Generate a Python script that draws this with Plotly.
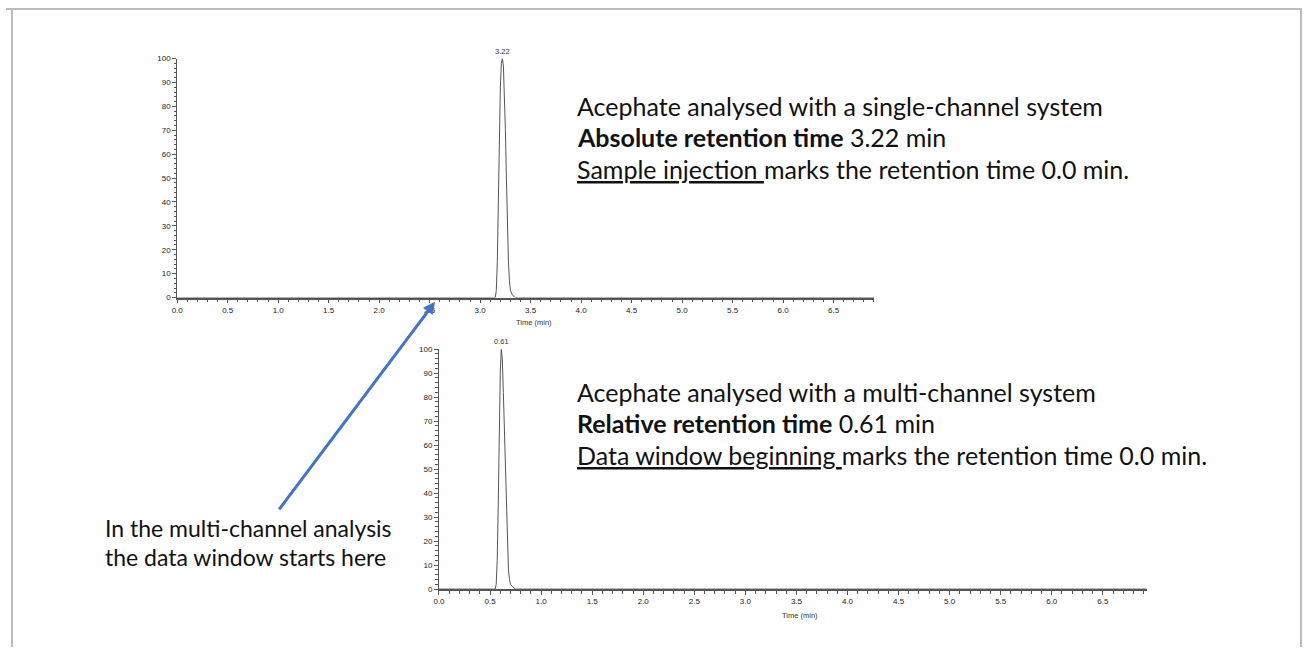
import plotly.graph_objects as go

W, H = 1304, 652

# ---- data ----
single_time = [0.0, 3.15, 3.16, 3.17, 3.18, 3.19, 3.20, 3.21, 3.22, 3.23, 3.24,
               3.25, 3.26, 3.27, 3.28, 3.29, 3.30, 3.32, 3.35, 6.9]
single_int = [0, 0, 3, 15, 40, 68, 88, 98, 100, 97, 86, 70, 50, 30, 15, 7, 3, 1, 0, 0]

multi_time = [0.0, 0.55, 0.56, 0.57, 0.58, 0.59, 0.60, 0.61, 0.62, 0.63, 0.64,
              0.65, 0.66, 0.67, 0.68, 0.69, 0.70, 0.72, 0.75, 6.93]
multi_int = [0, 0, 2, 12, 35, 65, 90, 100, 96, 82, 65, 48, 30, 16, 8, 4, 2, 1, 0, 0]

single_peak = 3.22
multi_peak = 0.61

x_tickvals = [0.0, 0.5, 1.0, 1.5, 2.0, 2.5, 3.0, 3.5, 4.0, 4.5, 5.0, 5.5, 6.0, 6.5]
x_ticktext = ["0.0", "0.5", "1.0", "1.5", "2.0", "2.5", "3.0", "3.5", "4.0", "4.5",
              "5.0", "5.5", "6.0", "6.5"]
y_tickvals = [0, 10, 20, 30, 40, 50, 60, 70, 80, 90, 100]
y_ticktext = ["0", "10", "20", "30", "40", "50", "60", "70", "80", "90", "100"]

top_lines = ["Acephate analysed with a single-channel system",
             "<b>Absolute retention time</b> 3.22 min",
             "<u>Sample injection </u>marks the retention time 0.0 min."]
bottom_lines = ["Acephate analysed with a multi-channel system",
                "<b>Relative retention time</b> 0.61 min",
                "<u>Data window beginning </u>marks the retention time 0.0 min."]
left_lines = ["In the multi-channel analysis", "the data window starts here"]

def px(x):
    return x / W

def py(y):
    return 1 - y / H

fig = go.Figure()
fig.add_trace(go.Scatter(x=single_time, y=single_int, mode="lines",
                         line=dict(color="#555555", width=1), xaxis="x", yaxis="y",
                         showlegend=False, hoverinfo="skip"))
fig.add_trace(go.Scatter(x=multi_time, y=multi_int, mode="lines",
                         line=dict(color="#555555", width=1), xaxis="x2", yaxis="y2",
                         showlegend=False, hoverinfo="skip"))

tickfont = dict(family="Liberation Sans, Arial", size=8, color="#222222")

def xaxis(domain, rng, anchor):
    return dict(domain=domain, range=rng, anchor=anchor, showgrid=False, zeroline=False,
                showline=True, linecolor="#555555", linewidth=1.5,
                tickmode="array", tickvals=x_tickvals, ticktext=x_ticktext,
                ticks="outside", ticklen=4, tickwidth=1, tickcolor="#555555",
                tickfont=tickfont,
                minor=dict(dtick=0.1, tick0=0, ticks="outside", ticklen=3,
                           tickwidth=1, tickcolor="#555555", showgrid=False))

def yaxis(domain, anchor):
    return dict(domain=domain, range=[0, 100], anchor=anchor, showgrid=False,
                zeroline=False, showline=True, linecolor="#555555", linewidth=1,
                tickmode="array", tickvals=y_tickvals, ticktext=y_ticktext,
                ticks="outside", ticklen=4, tickwidth=1, tickcolor="#555555",
                tickfont=tickfont, ticklabelstandoff=0,
                minor=dict(dtick=2, tick0=0, ticks="outside", ticklen=2.5,
                           tickwidth=1, tickcolor="#555555", showgrid=False))

fig.update_layout(
    width=W, height=H, margin=dict(l=0, r=0, t=0, b=0),
    paper_bgcolor="white", plot_bgcolor="white", showlegend=False,
    xaxis=xaxis([px(172), px(872)], [0, 6.9], "y"),
    yaxis=yaxis([py(297.7), py(55.3)], "x"),
    xaxis2=xaxis([px(435), px(1146)], [0, 6.93], "y2"),
    yaxis2=yaxis([py(593.3), py(350)], "x2"),
)

ann = []
small = dict(family="Liberation Sans, Arial", size=7.5, color="#333333")
ann.append(dict(x=single_peak, y=100, xref="x", yref="y", text="3.22", showarrow=False,
                yanchor="bottom", yshift=1, font=small))
ann.append(dict(x=multi_peak, y=100, xref="x2", yref="y2", text="0.61", showarrow=False,
                yanchor="bottom", yshift=1, font=small))
ann.append(dict(x=px(530), y=py(323), xref="paper", yref="paper", text="Time (min)",
                showarrow=False, yanchor="middle", font=small))
ann.append(dict(x=px(798), y=py(620), xref="paper", yref="paper", text="Time (min)",
                showarrow=False, yanchor="middle", font=small))

big = dict(family="Lato", size=25, color="#111111")
mid = dict(family="Lato", size=23, color="#111111")
for i, t in enumerate(top_lines):
    ann.append(dict(x=px(572), y=py(103 + 32 * i), xref="paper", yref="paper", text=t,
                    showarrow=False, xanchor="left", yanchor="middle", font=big))
for i, t in enumerate(bottom_lines):
    ann.append(dict(x=px(572), y=py(393 + 32 * i), xref="paper", yref="paper", text=t,
                    showarrow=False, xanchor="left", yanchor="middle", font=big))
for i, t in enumerate(left_lines):
    ann.append(dict(x=px(97), y=py(531 + 30 * i), xref="paper", yref="paper", text=t,
                    showarrow=False, xanchor="left", yanchor="middle", font=mid))

# blue arrow
ann.append(dict(x=px(431), y=py(302), xref="paper", yref="paper", text="",
                showarrow=True, ax=274 - 431, ay=511 - 302, axref="pixel", ayref="pixel",
                arrowcolor="#4472C4", arrowwidth=3, arrowhead=2, arrowsize=0.8,
                standoff=0, startstandoff=0))
fig.update_layout(annotations=ann)

# slide border
border = dict(color="#BBBBBB", width=2)
fig.add_shape(type="line", xref="paper", yref="paper", x0=0, x1=px(1302), y0=py(5), y1=py(5), line=border)
fig.add_shape(type="line", xref="paper", yref="paper", x0=px(6), x1=px(6), y0=py(5), y1=0, line=border)
fig.add_shape(type="line", xref="paper", yref="paper", x0=px(1301), x1=px(1301), y0=py(5), y1=0, line=border)

fig.write_html("out.html", config={"displayModeBar": False},
               post_script="document.body.style.margin='0';document.body.style.overflow='hidden';")
